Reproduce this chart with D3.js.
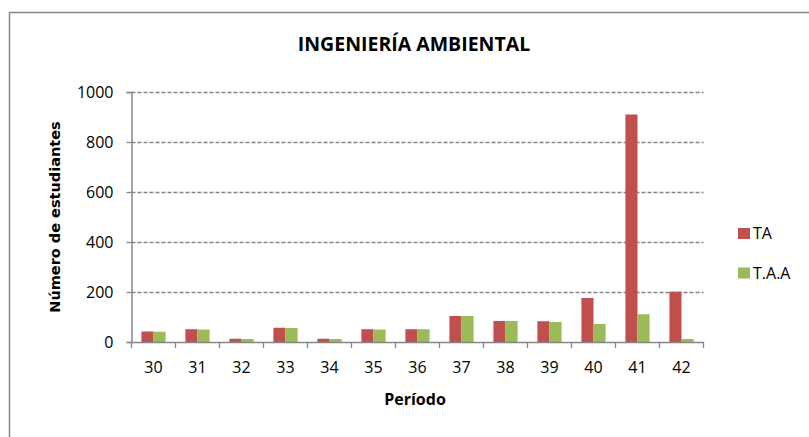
<!DOCTYPE html>
<html>
<head>
<meta charset="utf-8">
<script src="https://cdn.jsdelivr.net/npm/d3@7"></script>
<style>
  body { margin: 0; background: #fff; }
  text { font-family: "Open Sans", "Liberation Sans", sans-serif; fill: #000; }
</style>
</head>
<body>
<svg id="chart" width="809" height="437"></svg>
<script>
// datos
var periodos = ["30", "31", "32", "33", "34", "35", "36", "37", "38", "39", "40", "41", "42"];
var ta  = [42, 51, 13, 57, 13, 51, 51, 104, 84, 83, 176, 910, 201];
var taa = [41, 50, 12, 56, 12, 50, 51, 104, 84, 80, 72, 111, 12];
var series = ["TA", "T.A.A"];
var colores = ["#C0504D", "#9BBB59"];
var yTicks = [0, 200, 400, 600, 800, 1000];

var svg = d3.select("#chart");

// marco exterior
svg.append("rect")
  .attr("x", 9.5).attr("y", 12.5)
  .attr("width", 820).attr("height", 440)
  .attr("fill", "none").attr("stroke", "#878787").attr("stroke-width", 1.5);

var pLeft = 131.5, pRight = 703.5, pTop = 92, pBottom = 342;

var x = d3.scaleBand().domain(periodos).range([pLeft, pRight]).paddingInner(0.45).paddingOuter(0.225);
var xCat = d3.scaleBand().domain(periodos).range([pLeft, pRight]);
var xs = d3.scaleBand().domain(series).range([0, x.bandwidth()]);
var y = d3.scaleLinear().domain([0, 1000]).range([pBottom, pTop]);

// lineas de cuadricula
svg.append("g").selectAll("line")
  .data(yTicks.filter(function(d) { return d > 0; }))
  .enter().append("line")
  .attr("x1", pLeft).attr("x2", pRight)
  .attr("y1", function(d) { return Math.round(y(d)) + 0.5; })
  .attr("y2", function(d) { return Math.round(y(d)) + 0.5; })
  .attr("stroke", "#868686").attr("stroke-width", 1.3)
  .attr("stroke-dasharray", "4,2");

// barras
var datos = [ta, taa];
var g = svg.append("g");
series.forEach(function(s, k) {
  g.selectAll(".b" + k)
    .data(periodos)
    .enter().append("rect")
    .attr("class", "b" + k)
    .attr("x", function(d) { return x(d) + xs(s); })
    .attr("width", xs.bandwidth())
    .attr("y", function(d, i) { return y(datos[k][i]); })
    .attr("height", function(d, i) { return pBottom - y(datos[k][i]); })
    .attr("fill", colores[k]);
});

// eje y
var yAxis = svg.append("g")
  .attr("transform", "translate(" + pLeft + ",0)")
  .call(d3.axisLeft(y).tickValues(yTicks).tickSize(5).tickPadding(13).tickFormat(d3.format("d")));
yAxis.selectAll("text").style("font-size", "16px");

// eje x
var xAxis = svg.append("g")
  .attr("transform", "translate(0," + pBottom + ")")
  .call(d3.axisBottom(xCat).tickSize(0).tickPadding(20));
xAxis.selectAll("text").style("font-size", "16px");
xAxis.selectAll(".tick line").remove();
xAxis.selectAll(".sep")
  .data(periodos.concat(["fin"]))
  .enter().append("line")
  .attr("class", "sep")
  .attr("x1", function(d, i) { return pLeft + i * xCat.bandwidth(); })
  .attr("x2", function(d, i) { return pLeft + i * xCat.bandwidth(); })
  .attr("y1", 0).attr("y2", 6);

[yAxis, xAxis].forEach(function(a) {
  a.select(".domain").attr("stroke", "#868686").attr("stroke-width", 1.5);
  a.selectAll("line").attr("stroke", "#868686").attr("stroke-width", 1.3);
});

// titulo
svg.append("text")
  .attr("x", 414).attr("y", 51)
  .attr("text-anchor", "middle")
  .style("font-size", "19.5px").style("font-weight", "bold")
  .text("INGENIERÍA AMBIENTAL");

// titulos de ejes
svg.append("text")
  .attr("transform", "translate(60,217) rotate(-90)")
  .attr("text-anchor", "middle")
  .style("font-family", "DejaVu Sans").style("font-size", "14.5px").style("font-weight", "bold")
  .text("Número de estudiantes");

svg.append("text")
  .attr("x", 415).attr("y", 405)
  .attr("text-anchor", "middle")
  .style("font-size", "16px").style("font-weight", "bold")
  .text("Período");

// leyenda
var leg = svg.append("g").selectAll("g")
  .data(series)
  .enter().append("g")
  .attr("transform", function(d, i) { return "translate(738," + (228 + i * 39.5) + ")"; });
leg.append("rect").attr("width", 12).attr("height", 11)
  .attr("fill", function(d, i) { return colores[i]; });
leg.append("text").attr("x", 15).attr("y", 11)
  .style("font-size", "16px")
  .text(function(d) { return d; });
</script>
</body>
</html>
